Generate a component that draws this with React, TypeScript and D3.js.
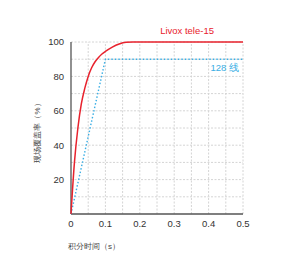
import React, { useEffect, useRef } from 'react';
import * as d3 from 'd3';

// integration time (s) vs coverage (%)
const redTimes = [0, 0.01, 0.02, 0.03, 0.04, 0.05, 0.06, 0.07, 0.08, 0.09, 0.1, 0.12, 0.14, 0.16, 0.18, 0.5];
const redValues = [0, 30, 50, 64, 73, 80, 85, 88.5, 91, 93, 94.5, 97, 98.8, 99.8, 100, 100];

const blueTimes = [0, 0.1, 0.5];
const blueValues = [0, 90, 90];

const xTicks = [0, 0.1, 0.2, 0.3, 0.4, 0.5];
const yTicks = [20, 40, 60, 80, 100];
const xGrid = [0.05, 0.1, 0.15, 0.2, 0.25, 0.3, 0.35, 0.4, 0.45, 0.5];
const yGrid = [10, 20, 30, 40, 50, 60, 70, 80, 90, 100];

const redLabel = 'Livox tele-15';
const blueLabel = '128 线';
const xTitle = '积分时间（s）';
const yTitle = '现场覆盖率（%）';

const App = () => {
  const svgRef = useRef(null);

  useEffect(() => {
    if (!svgRef.current) return;
    const margin = { top: 42, right: 61, bottom: 56, left: 71 };
    const width = 304;
    const height = 270;

    const svg = d3.select(svgRef.current);
    svg.selectAll('*').remove();

    const x = d3.scaleLinear().domain([0, 0.5]).range([margin.left, width - margin.right]);
    const y = d3.scaleLinear().domain([0, 100]).range([height - margin.bottom, margin.top]);

    const font = 'Liberation Sans, Arial, sans-serif';

    // grid
    svg
      .selectAll('line.vgrid')
      .data(xGrid)
      .enter()
      .append('line')
      .attr('x1', (d) => x(d))
      .attr('x2', (d) => x(d))
      .attr('y1', y(0))
      .attr('y2', y(100))
      .attr('stroke', '#d4d4d4')
      .attr('stroke-dasharray', '2,1.5');

    svg
      .selectAll('line.hgrid')
      .data(yGrid)
      .enter()
      .append('line')
      .attr('x1', x(0))
      .attr('x2', x(0.5))
      .attr('y1', (d) => y(d))
      .attr('y2', (d) => y(d))
      .attr('stroke', '#d4d4d4')
      .attr('stroke-dasharray', '2,1.5');

    // axes
    svg
      .append('line')
      .attr('x1', x(0))
      .attr('x2', x(0))
      .attr('y1', y(0))
      .attr('y2', y(100))
      .attr('stroke', '#555')
      .attr('stroke-width', 1.3);
    svg
      .append('line')
      .attr('x1', x(0))
      .attr('x2', x(0.5))
      .attr('y1', y(0))
      .attr('y2', y(0))
      .attr('stroke', '#555')
      .attr('stroke-width', 1.3);

    svg
      .selectAll('text.xt')
      .data(xTicks)
      .enter()
      .append('text')
      .attr('x', (d) => x(d))
      .attr('y', y(0) + 10)
      .attr('dy', '0.35em')
      .attr('text-anchor', 'middle')
      .attr('font-family', font)
      .attr('font-size', 9.5)
      .attr('fill', '#333')
      .text((d) => String(d));

    svg
      .selectAll('text.yt')
      .data(yTicks)
      .enter()
      .append('text')
      .attr('x', x(0) - 7)
      .attr('y', (d) => y(d))
      .attr('dy', '0.35em')
      .attr('text-anchor', 'end')
      .attr('font-family', font)
      .attr('font-size', 9.5)
      .attr('fill', '#333')
      .text((d) => String(d));

    // lines
    const blueLine = d3
      .line()
      .x((d) => x(d[0]))
      .y((d) => y(d[1]));
    svg
      .append('path')
      .attr('d', blueLine(blueTimes.map((t, i) => [t, blueValues[i]])))
      .attr('fill', 'none')
      .attr('stroke', '#3aaee4')
      .attr('stroke-width', 1.4)
      .attr('stroke-dasharray', '1.5,2');

    const redLine = d3
      .line()
      .x((d) => x(d[0]))
      .y((d) => y(d[1]))
      .curve(d3.curveMonotoneX);
    svg
      .append('path')
      .attr('d', redLine(redTimes.map((t, i) => [t, redValues[i]])))
      .attr('fill', 'none')
      .attr('stroke', '#e8222d')
      .attr('stroke-width', 1.5);

    // series labels
    svg
      .append('text')
      .attr('x', x(0.5) - 29)
      .attr('y', y(100) - 8)
      .attr('text-anchor', 'end')
      .attr('font-family', font)
      .attr('font-size', 9.5)
      .attr('fill', '#e8222d')
      .text(redLabel);

    svg
      .append('text')
      .attr('x', x(0.5) - 4)
      .attr('y', y(90) + 8.5)
      .attr('dy', '0.35em')
      .attr('text-anchor', 'end')
      .attr('font-family', font)
      .attr('font-size', 9.5)
      .attr('fill', '#3aaee4')
      .text(blueLabel);

    // titles
    svg
      .append('text')
      .attr('x', (x(0) + x(0.5)) / 2 - 63)
      .attr('y', 246)
      .attr('dy', '0.35em')
      .attr('text-anchor', 'middle')
      .attr('font-family', font)
      .attr('font-size', 8)
      .attr('fill', '#444')
      .text(xTitle);

    svg
      .append('text')
      .attr('transform', `translate(37.5,${(y(0) + y(100)) / 2 + 3}) rotate(-90)`)
      .attr('dy', '0.35em')
      .attr('text-anchor', 'middle')
      .attr('font-family', font)
      .attr('font-size', 8)
      .attr('fill', '#444')
      .text(yTitle);
  }, []);

  return (
    <svg
      ref={svgRef}
      width={304}
      height={270}
      style={{ position: 'absolute', left: 0, top: 0, background: '#fff' }}
    />
  );
};

export default App;
